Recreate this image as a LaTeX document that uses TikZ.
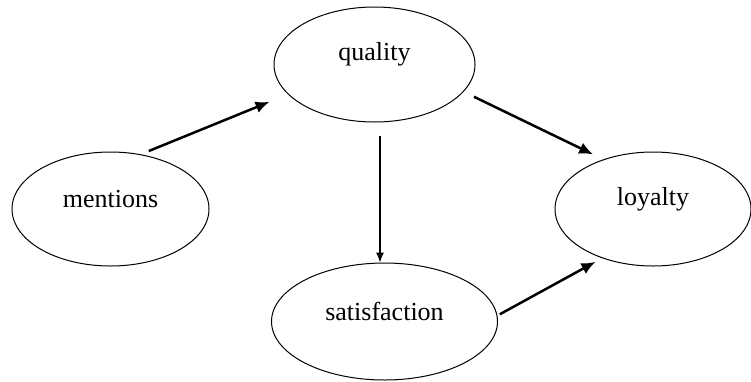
\documentclass[tikz,border=0pt]{standalone}
\usepackage{fontspec}
\setmainfont{Liberation Serif}
\usetikzlibrary{shapes.geometric,arrows.meta}

\begin{document}
\begin{tikzpicture}[x=1pt, y=-1pt, font=\fontsize{26}{30}\selectfont,
  blob/.style={draw, ellipse, line width=1pt, inner sep=0pt},
  link/.style={line width=2.5pt, -{Latex[length=14pt,width=12pt]}},
  slim/.style={line width=1.2pt, -{Latex[length=10pt,width=8pt]}}]
  \useasboundingbox (0,0) rectangle (751,381);
  \foreach \nm/\xc/\yc/\rx/\ry/\txt in {
    mentions/110.5/209/98.5/57/mentions, quality/374.5/64.5/100.5/57.5/quality,
    loyalty/653/209/98/57/loyalty, satisf/384.5/321.5/113/58.5/satisfaction}
    \node[blob, minimum width={2*\rx pt}, minimum height={2*\ry pt},
      label={[yshift=10pt]center:\txt}] (\nm) at (\xc,\yc) {};
  \draw[link, shorten <=8.6pt, shorten >=19.8pt] (mentions.61.6) -- (quality.199.9);
  \draw[link, shorten <=11.4pt, shorten >=11.3pt] (quality.-17) -- (loyalty.135.5);
  \draw[slim, shorten <=13pt] ([xshift=5.5pt]quality.south) -- ([xshift=-4.5pt]satisf.north);
  \draw[link, shorten <=2.7pt, shorten >=7.5pt] (satisf.3.2) -- (loyalty.-136);
\end{tikzpicture}
\end{document}
